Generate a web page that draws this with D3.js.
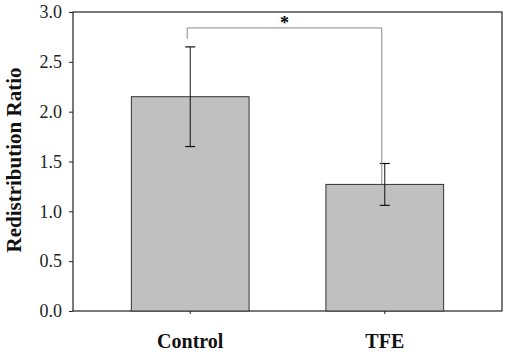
<!DOCTYPE html>
<html>
<head>
<meta charset="utf-8">
<script src="https://cdn.jsdelivr.net/npm/d3@7"></script>
<style>
  body { margin: 0; background: #fff; }
</style>
</head>
<body>
<div id="chart"></div>
<script>
var categories = ["Control", "TFE"];
var means = [2.15, 1.27];
var errors = [0.5, 0.21];
var yTicks = [0.0, 0.5, 1.0, 1.5, 2.0, 2.5, 3.0];
var bracketLevel = 2.84;

var FONT = "Liberation Serif";
var width = 510, height = 357;
var margin = {top: 12, right: 8, bottom: 46, left: 73};
var width_g = width - margin.left - margin.right,
    height_g = height - margin.top - margin.bottom;

var svg = d3.select("#chart").append("svg")
    .attr("width", width)
    .attr("height", height)
    .attr("font-family", FONT);

var g = svg.append("g")
    .attr("transform", "translate(" + margin.left + "," + margin.top + ")");

var x = d3.scaleBand()
    .domain(categories)
    .range([0, width_g])
    .paddingInner(0.395)
    .paddingOuter(0.3);

var y = d3.scaleLinear()
    .domain([0, 3])
    .range([height_g, 0]);

// frame
g.append("rect")
    .attr("width", width_g)
    .attr("height", height_g)
    .attr("fill", "none")
    .attr("stroke", "#222")
    .attr("stroke-width", 1.2);

// bars
g.selectAll(".bar")
    .data(categories)
    .enter().append("rect")
    .attr("class", "bar")
    .attr("x", function(d) { return x(d); })
    .attr("width", x.bandwidth())
    .attr("y", function(d, i) { return y(means[i]); })
    .attr("height", function(d, i) { return height_g - y(means[i]); })
    .attr("fill", "#c0c0c0")
    .attr("stroke", "#333")
    .attr("stroke-width", 1);

// error bars
var eb = g.selectAll(".err")
    .data(categories)
    .enter().append("g")
    .attr("class", "err")
    .attr("transform", function(d) { return "translate(" + (x(d) + x.bandwidth() / 2) + ",0)"; });
eb.append("line")
    .attr("y1", function(d, i) { return y(means[i] - errors[i]); })
    .attr("y2", function(d, i) { return y(means[i] + errors[i]); })
    .attr("stroke", "#111").attr("stroke-width", 1);
eb.append("line")
    .attr("x1", -5).attr("x2", 5)
    .attr("y1", function(d, i) { return y(means[i] + errors[i]); })
    .attr("y2", function(d, i) { return y(means[i] + errors[i]); })
    .attr("stroke", "#111").attr("stroke-width", 1.2);
eb.append("line")
    .attr("x1", -5).attr("x2", 5)
    .attr("y1", function(d, i) { return y(means[i] - errors[i]); })
    .attr("y2", function(d, i) { return y(means[i] - errors[i]); })
    .attr("stroke", "#111").attr("stroke-width", 1.2);

// significance bracket
var cx0 = x(categories[0]) + x.bandwidth() / 2 - 3,
    cx1 = x(categories[1]) + x.bandwidth() / 2 - 3;
g.append("path")
    .attr("d", "M" + cx0 + "," + y(means[0] + errors[0] + 0.08) +
               "V" + y(bracketLevel) +
               "H" + cx1 +
               "V" + y(means[1]))
    .attr("fill", "none")
    .attr("stroke", "#888")
    .attr("stroke-width", 1);
g.append("text")
    .attr("x", (cx0 + cx1) / 2)
    .attr("y", y(bracketLevel) + 1)
    .attr("text-anchor", "middle")
    .attr("font-size", 18)
    .attr("font-weight", "bold")
    .text("*");

// y axis
var yAxis = d3.axisLeft(y)
    .tickValues(yTicks)
    .tickSize(4)
    .tickFormat(d3.format(".1f"));
var ya = g.append("g").call(yAxis).attr("font-family", FONT);
ya.select(".domain").remove();
ya.selectAll("line").attr("stroke", "#222");
ya.selectAll("text")
    .attr("font-size", 18)
    .attr("fill", "#222")
    .attr("x", -11);

// x axis
var xAxis = d3.axisBottom(x).tickSize(3);
var xa = g.append("g")
    .attr("transform", "translate(0," + height_g + ")")
    .call(xAxis)
    .attr("font-family", FONT);
xa.select(".domain").remove();
xa.selectAll("line").attr("stroke", "#222");
xa.selectAll("text")
    .attr("y", 37)
    .attr("dy", null)
    .attr("font-size", 20)
    .attr("font-weight", "bold")
    .attr("fill", "#111");

// y label
g.append("text")
    .attr("transform", "rotate(-90)")
    .attr("x", -(160 - margin.top))
    .attr("y", -52)
    .attr("text-anchor", "middle")
    .attr("font-size", 21)
    .attr("font-weight", "bold")
    .attr("fill", "#111")
    .text("Redistribution Ratio");
</script>
</body>
</html>
